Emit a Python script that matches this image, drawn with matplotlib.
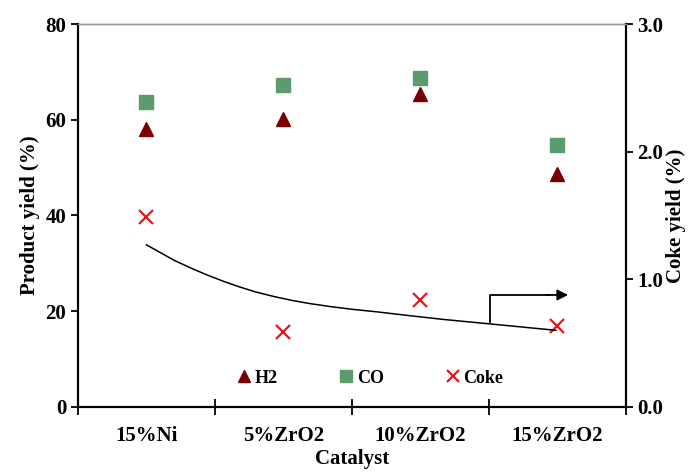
import numpy as np
import matplotlib
matplotlib.use("Agg")
import matplotlib.pyplot as plt

catalysts = ["15%Ni", "5%ZrO2", "10%ZrO2", "15%ZrO2"]
h2 = [58.0, 60.1, 65.3, 48.6]
co = [63.7, 67.2, 68.8, 54.8]
coke = [1.49, 0.59, 0.84, 0.63]

# trend curve (x in category units, y on coke axis)
trend_x = [0.50, 0.60, 0.70, 0.82, 0.94, 1.06, 1.18, 1.30, 1.43, 1.56, 1.69,
           1.85, 2.00, 2.18, 2.42, 2.67, 3.01, 3.25, 3.49]
trend_y = [1.27, 1.21, 1.15, 1.09, 1.035, 0.985, 0.94, 0.90, 0.865, 0.835, 0.81,
           0.785, 0.765, 0.745, 0.715, 0.685, 0.65, 0.625, 0.60]

plt.rcParams["font.family"] = "Liberation Serif"
plt.rcParams["font.weight"] = "bold"

fig = plt.figure(figsize=(6.96, 4.72), dpi=100)
ax = fig.add_axes([0.112, 0.138, 0.787, 0.811])
ax2 = ax.twinx()

xpos = np.arange(len(catalysts)) + 0.5

ax.plot(xpos, h2, ls="none", marker="^", ms=10, color="#7a0000", label="H2")
ax.plot(xpos, co, ls="none", marker="s", ms=10, color="#5c9b6c", label="CO")
ax2.plot(xpos, coke, ls="none", marker="x", ms=10, mew=1.6, color="#e8141e", label="Coke")
ax2.plot(trend_x, trend_y, color="black", lw=1.1)

# arrow pointing at the right axis
ax2.plot([3.01, 3.01, 3.45], [0.668, 0.877, 0.877], color="black", lw=1.3)
ax2.annotate("", xy=(3.60, 0.877), xytext=(3.40, 0.877),
             arrowprops=dict(arrowstyle="-|>", color="black", lw=1.3, mutation_scale=16))

ax.set_xlim(0, 4)
ax.set_ylim(0, 80)
ax2.set_ylim(0, 3.0)
ax.set_yticks([0, 20, 40, 60, 80])
ax2.set_yticks([0, 1.0, 2.0, 3.0])
ax2.set_yticklabels(["0.0", "1.0", "2.0", "3.0"])

ax.set_xticks([0, 1, 2, 3, 4])
ax.set_xticklabels([])
ax.set_xticks(xpos, minor=True)
ax.set_xticklabels(catalysts, minor=True)
ax.tick_params(axis="x", which="major", direction="inout", length=12, width=1.3)
ax.tick_params(axis="x", which="minor", length=0, pad=14, labelsize=15)
ax.tick_params(axis="y", direction="out", length=5, width=1.3, labelsize=15)
ax2.tick_params(axis="y", direction="out", length=5, width=1.3, labelsize=15)

for a in (ax, ax2):
    a.spines["top"].set_color("#999999")
    a.spines["top"].set_linewidth(1.0)
    for s in ("left", "right", "bottom"):
        a.spines[s].set_linewidth(1.5)

ax.set_xlabel("Catalyst", fontsize=15, fontweight="bold", labelpad=2)
ax.set_ylabel("Product yield (%)", fontsize=15, fontweight="bold")
ax2.set_ylabel("Coke yield (%)", fontsize=15, fontweight="bold", labelpad=2)

handles = ax.get_lines()[:2] + ax2.get_lines()[:1]
ax.legend(handles, ["H2", "CO", "Coke"], loc="center", bbox_to_anchor=(0.533, 0.075),
          ncol=3, frameon=False, fontsize=13, handlelength=0.8, handletextpad=0.2,
          columnspacing=3.4, markerscale=0.9)

fig.savefig("out.png", dpi=100)
